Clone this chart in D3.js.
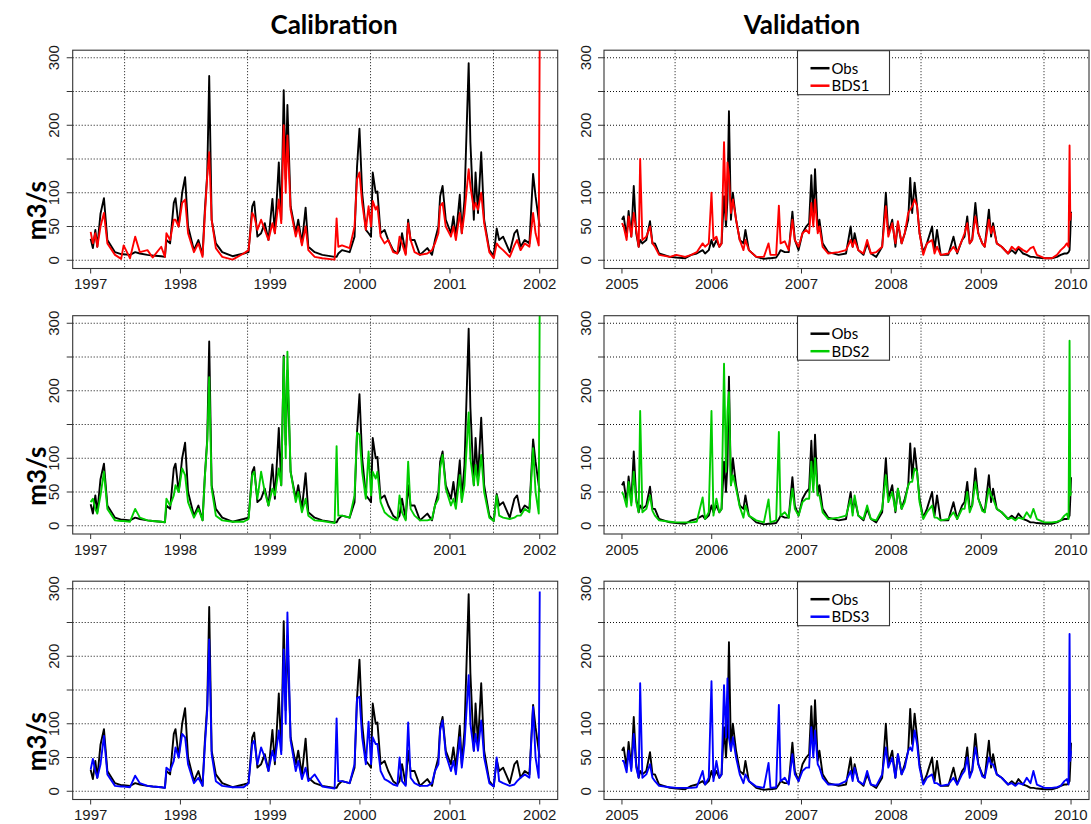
<!DOCTYPE html>
<html><head><meta charset="utf-8">
<script src="https://cdn.jsdelivr.net/npm/d3@7"></script>
<style>body{margin:0;background:#fff}</style>
</head><body>
<svg id="chart" width="1091" height="824"></svg>
<script>
// ---------------- DATA ----------------
const calDates = ["1997-01-01","1997-01-10","1997-01-20","1997-01-28","1997-02-10","1997-02-24","1997-03-10","1997-04-10","1997-05-05","1997-05-15","1997-06-10","1997-07-01","1997-07-20","1997-08-20","1997-09-10","1997-10-15","1997-10-30","1997-11-05","1997-11-20","1997-12-05","1997-12-12","1997-12-25","1998-01-08","1998-01-20","1998-02-01","1998-02-25","1998-03-15","1998-04-01","1998-04-10","1998-04-20","1998-04-28","1998-05-08","1998-05-25","1998-06-20","1998-08-01","1998-09-15","1998-10-05","1998-10-20","1998-10-28","1998-11-10","1998-11-25","1998-12-10","1998-12-25","1999-01-10","1999-01-20","1999-02-05","1999-02-15","1999-02-25","1999-03-05","1999-03-12","1999-03-25","1999-04-15","1999-04-25","1999-05-10","1999-05-25","1999-06-05","1999-07-01","1999-08-01","1999-09-20","1999-09-28","1999-10-05","1999-10-20","1999-11-20","1999-12-10","1999-12-20","1999-12-30","2000-01-10","2000-01-25","2000-02-05","2000-02-15","2000-02-22","2000-03-05","2000-03-12","2000-03-25","2000-04-10","2000-04-25","2000-05-15","2000-06-01","2000-06-10","2000-06-20","2000-07-05","2000-07-15","2000-07-25","2000-08-10","2000-09-01","2000-10-01","2000-10-20","2000-11-01","2000-11-15","2000-11-22","2000-12-02","2000-12-15","2001-01-05","2001-01-15","2001-01-25","2001-02-10","2001-02-18","2001-03-01","2001-03-18","2001-03-25","2001-04-08","2001-04-15","2001-04-25","2001-05-08","2001-05-20","2001-06-10","2001-06-28","2001-07-10","2001-07-20","2001-08-05","2001-09-01","2001-09-20","2001-10-01","2001-10-15","2001-11-01","2001-11-20","2001-12-05","2001-12-15","2001-12-28","2002-01-01"];
const calObs  = [32,18,45,20,69,92,30,12,9,9,8,12,10,8,7,6,5,30,25,85,92,50,100,123,50,15,30,8,72,128,273,60,25,12,6,10,12,80,87,35,40,55,30,91,40,145,60,252,120,230,80,40,60,25,78,20,12,8,5,5,10,15,12,35,138,195,100,45,40,35,130,100,102,40,45,30,15,10,15,40,10,60,30,30,8,18,8,30,50,95,110,60,40,65,35,97,40,90,292,175,60,130,70,160,60,15,7,47,30,35,12,40,45,20,30,25,128,95,60,50];
const calBDS1 = [42,25,40,20,50,70,25,8,2,22,3,35,12,15,4,20,5,40,30,60,60,50,85,90,40,12,25,5,65,125,160,60,18,5,1,10,15,70,65,45,60,45,30,55,40,90,55,200,100,185,75,35,50,22,50,15,5,3,1,62,20,22,18,50,120,130,85,45,80,50,88,75,80,35,25,30,12,10,35,25,8,55,30,12,8,10,15,25,40,80,85,50,35,50,30,70,40,70,135,110,75,85,75,100,55,12,3,25,20,15,5,22,30,15,25,20,70,40,22,340];
const calBDS2 = [35,40,25,18,45,80,25,8,7,7,6,25,12,8,7,6,5,40,30,45,60,50,85,75,35,12,25,8,70,125,220,55,15,8,6,6,10,75,80,40,80,50,30,55,45,85,60,250,100,258,80,35,50,20,40,15,8,7,4,118,15,15,12,45,138,135,80,40,110,45,80,70,80,35,20,15,10,8,45,20,8,95,25,15,8,8,10,30,40,85,105,55,30,40,25,75,35,60,168,100,60,90,60,105,50,12,7,45,15,12,10,12,15,15,25,20,115,50,18,340];
const calBDS3 = [32,48,30,20,40,82,25,8,7,7,6,23,12,8,7,6,5,35,30,45,65,50,85,80,40,12,20,8,65,120,225,55,15,8,6,6,12,70,75,40,65,50,30,60,45,90,55,210,100,265,75,30,45,18,35,15,25,7,4,108,15,15,12,40,138,140,80,40,103,40,80,70,70,30,18,15,10,8,50,15,8,102,20,12,8,8,12,30,40,90,105,55,30,45,25,80,35,70,172,100,60,85,60,105,50,12,7,50,15,12,8,10,15,20,25,20,125,50,20,296];

const valDates = ["2005-01-01","2005-01-08","2005-01-20","2005-01-28","2005-02-08","2005-02-18","2005-02-28","2005-03-10","2005-03-16","2005-03-25","2005-04-10","2005-04-25","2005-05-05","2005-05-15","2005-06-01","2005-07-15","2005-08-10","2005-09-15","2005-10-10","2005-11-01","2005-11-25","2005-12-05","2005-12-20","2005-12-31","2006-01-08","2006-01-20","2006-02-01","2006-02-10","2006-02-20","2006-02-28","2006-03-06","2006-03-12","2006-03-20","2006-03-28","2006-04-10","2006-04-25","2006-05-10","2006-05-18","2006-06-01","2006-07-01","2006-08-01","2006-08-20","2006-08-28","2006-09-20","2006-10-01","2006-10-08","2006-10-25","2006-11-10","2006-11-25","2006-12-05","2006-12-20","2007-01-05","2007-01-20","2007-02-01","2007-02-10","2007-02-18","2007-02-25","2007-03-08","2007-03-15","2007-03-28","2007-04-20","2007-06-01","2007-07-01","2007-07-20","2007-07-28","2007-08-05","2007-08-20","2007-09-10","2007-09-25","2007-10-10","2007-11-01","2007-11-25","2007-12-10","2007-12-20","2008-01-05","2008-01-18","2008-01-28","2008-02-12","2008-02-25","2008-03-10","2008-03-18","2008-03-26","2008-04-05","2008-04-15","2008-04-25","2008-05-10","2008-05-25","2008-06-15","2008-06-25","2008-07-05","2008-07-20","2008-08-20","2008-09-10","2008-09-25","2008-10-15","2008-10-25","2008-11-05","2008-11-15","2008-11-25","2008-12-08","2008-12-20","2009-01-05","2009-01-15","2009-02-01","2009-02-10","2009-02-18","2009-03-05","2009-03-25","2009-04-20","2009-05-05","2009-05-20","2009-06-01","2009-06-20","2009-07-05","2009-07-20","2009-08-01","2009-08-15","2009-09-15","2009-10-15","2009-11-05","2009-11-20","2009-12-05","2009-12-15","2009-12-22","2009-12-26","2009-12-29","2010-01-01"];
const valObs  = [60,65,35,73,35,110,40,20,30,25,30,58,25,25,10,5,4,3,8,10,15,10,15,30,20,30,20,25,95,50,90,221,60,100,60,30,25,45,15,5,2,3,3,4,10,15,12,12,72,30,15,40,50,55,126,60,135,45,60,25,12,8,10,50,20,40,15,8,25,10,5,20,100,40,60,20,55,25,40,60,122,70,115,80,40,12,25,50,15,45,8,8,35,10,30,35,65,25,30,85,40,25,20,75,35,55,25,20,10,15,10,18,10,8,5,5,4,3,3,5,8,10,10,12,15,40,72];
const valBDS1 = [55,50,30,65,35,70,45,20,150,30,35,50,25,20,8,5,8,5,8,12,25,20,25,100,30,35,20,25,175,60,145,125,70,90,60,30,15,30,15,5,5,25,8,8,81,25,28,15,60,30,20,40,45,40,85,50,90,40,50,20,10,12,15,30,20,30,15,10,30,10,12,20,80,35,55,25,58,25,40,70,75,80,90,80,40,8,25,30,10,20,8,10,20,12,30,40,55,25,30,65,40,25,20,60,40,50,25,20,10,20,15,20,15,12,18,20,8,3,3,8,15,20,25,20,170,60,70];
const valBDS2 = [50,45,28,65,30,80,35,20,170,20,25,45,22,15,8,6,5,5,5,6,42,10,20,170,15,40,20,25,240,80,170,198,60,75,55,28,12,30,15,8,5,39,5,8,139,15,20,12,55,25,15,35,40,40,95,50,100,45,45,20,10,12,15,40,15,45,15,10,30,10,8,25,75,35,50,22,55,25,35,60,65,65,85,80,35,10,20,30,12,12,8,10,20,10,25,25,50,20,30,65,40,22,20,55,45,40,25,20,10,12,8,12,10,20,12,25,10,5,5,6,8,15,18,10,274,45,50];
const valBDS3 = [45,45,28,60,30,85,35,20,160,20,25,40,20,15,8,6,5,5,5,6,30,10,20,163,15,45,20,25,157,80,167,80,60,80,50,25,12,25,15,7,5,42,5,6,128,15,20,10,55,25,15,30,35,35,95,50,90,40,35,20,10,10,15,30,15,35,15,10,30,10,8,25,65,35,50,20,55,25,35,60,65,60,90,70,35,10,20,25,12,12,8,10,20,10,25,30,50,20,30,65,40,22,20,50,40,40,25,20,10,12,8,12,10,20,12,30,10,5,5,6,8,15,18,10,233,45,60];

const calYears = [1997,1998,1999,2000,2001,2002];
const valYears = [2005,2006,2007,2008,2009,2010];
const calGridDays = [10000,10500,11000,11500];   // days since 1970-01-01
const valGridDays = [13000,13500,14000,14500];
const yTickValues = [0,50,100,150,200,250,300];
const yTickLabels = ["0","50","100","","200","","300"];
const colTitles = ["Calibration","Validation"];
const simNames = ["BDS1","BDS2","BDS3"];
const simColors = ["#ff0000","#00cd00","#0000ff"];
const obsName = "Obs";
const yUnit = "m3/s";

// ---------------- LAYOUT ----------------
const svg = d3.select("#chart");
const colX = [72.7, 604];
const boxW = 485;
const rowY = [50.2, 315.7, 581.2];
const boxH = 218.3;
const parse = d3.utcParse("%Y-%m-%d");

const periods = [
  {dates: calDates.map(parse), obs: calObs, sims: [calBDS1, calBDS2, calBDS3], years: calYears, grid: calGridDays},
  {dates: valDates.map(parse), obs: valObs, sims: [valBDS1, valBDS2, valBDS3], years: valYears, grid: valGridDays}
];

const tickFont = "'Liberation Sans', Arial, sans-serif";
const calFont = "Lato, 'Open Sans', sans-serif";
const textCol = "#1c1c1c";

// column titles
colTitles.forEach((t, c) => {
  svg.append("text").attr("x", c === 0 ? 334 : 802).attr("y", 34.3)
    .attr("text-anchor", "middle").attr("font-family", calFont)
    .attr("font-weight", "bold").attr("font-size", 26).attr("fill", "#000").text(t);
});

rowY.forEach((top, r) => {
  // y unit label
  svg.append("text")
    .attr("transform", `translate(46,${top + 160.5}) rotate(-90)`)
    .attr("text-anchor", "middle").attr("font-family", calFont)
    .attr("font-weight", "bold").attr("font-size", 26).attr("fill", "#000").text(yUnit);

  periods.forEach((p, c) => {
    const left = colX[c];
    const t0 = Date.UTC(p.years[0], 0, 1), t1 = Date.UTC(p.years[p.years.length - 1], 0, 1);
    const pad = (t1 - t0) * 0.04;
    const x = d3.scaleUtc().domain([new Date(t0 - pad), new Date(t1 + pad)]).range([left, left + boxW]);
    const y = d3.scaleLinear().domain([-12.2, 311.2]).range([top + boxH, top]);
    const g = svg.append("g");
    const clipId = `clip${r}${c}`;
    svg.append("clipPath").attr("id", clipId).append("rect")
      .attr("x", left).attr("y", top).attr("width", boxW).attr("height", boxH);

    // grid
    g.selectAll(".hg").data(yTickValues).join("line")
      .attr("x1", left).attr("x2", left + boxW)
      .attr("y1", d => y(d)).attr("y2", d => y(d))
      .attr("stroke", "#111").attr("stroke-width", 1).attr("stroke-dasharray", "1,2");
    g.selectAll(".vg").data(p.grid).join("line")
      .attr("x1", d => x(new Date(d * 86400000))).attr("x2", d => x(new Date(d * 86400000)))
      .attr("y1", top).attr("y2", top + boxH)
      .attr("stroke", "#111").attr("stroke-width", 1).attr("stroke-dasharray", "1,2");

    // lines
    const line = arr => d3.line().x((d, i) => x(p.dates[i])).y(d => y(d))(arr);
    const lg = g.append("g").attr("clip-path", `url(#${clipId})`);
    lg.append("path").attr("d", line(p.obs)).attr("fill", "none")
      .attr("stroke", "#000").attr("stroke-width", 1.9).attr("stroke-linejoin", "round");
    lg.append("path").attr("d", line(p.sims[r])).attr("fill", "none")
      .attr("stroke", simColors[r]).attr("stroke-width", 1.9).attr("stroke-linejoin", "round");

    // box
    g.append("rect").attr("x", left).attr("y", top).attr("width", boxW).attr("height", boxH)
      .attr("fill", "none").attr("stroke", "#333").attr("stroke-width", 1.1);

    // y axis ticks + labels
    g.selectAll(".yt").data(yTickValues).join("line")
      .attr("x1", left - 6).attr("x2", left).attr("y1", d => y(d)).attr("y2", d => y(d))
      .attr("stroke", "#333");
    g.selectAll(".yl").data(yTickValues).join("text")
      .attr("transform", d => `translate(${left - 13.4},${y(d)}) rotate(-90)`)
      .attr("text-anchor", "middle").attr("font-family", tickFont).attr("font-size", 15)
      .attr("fill", textCol).text((d, i) => yTickLabels[i]);

    // x axis ticks + labels
    g.selectAll(".xt").data(p.years).join("line")
      .attr("x1", d => x(new Date(Date.UTC(d, 0, 1)))).attr("x2", d => x(new Date(Date.UTC(d, 0, 1))))
      .attr("y1", top + boxH).attr("y2", top + boxH + 5).attr("stroke", "#333");
    g.selectAll(".xl").data(p.years).join("text")
      .attr("x", d => x(new Date(Date.UTC(d, 0, 1)))).attr("y", top + boxH + 20.5)
      .attr("text-anchor", "middle").attr("font-family", tickFont).attr("font-size", 15)
      .attr("fill", textCol).text(d => d);

    // legend (validation column)
    if (c === 1) {
      const lx = left + boxW / 2 - 49, ly = top + 0.5;
      const lgd = g.append("g");
      lgd.append("rect").attr("x", lx).attr("y", ly).attr("width", 92).attr("height", 44)
        .attr("fill", "#fff").attr("stroke", "#333").attr("stroke-width", 1.1);
      [[obsName, "#000"], [simNames[r], simColors[r]]].forEach(([nm, col], k) => {
        const yy = ly + 17.5 + k * 17.5;
        lgd.append("line").attr("x1", lx + 13).attr("x2", lx + 32).attr("y1", yy).attr("y2", yy)
          .attr("stroke", col).attr("stroke-width", 2.5);
        lgd.append("text").attr("x", lx + 34).attr("y", yy + 5.5)
          .attr("font-family", calFont).attr("font-size", 15).attr("fill", "#000").text(nm);
      });
    }
  });
});
</script>
</body></html>
